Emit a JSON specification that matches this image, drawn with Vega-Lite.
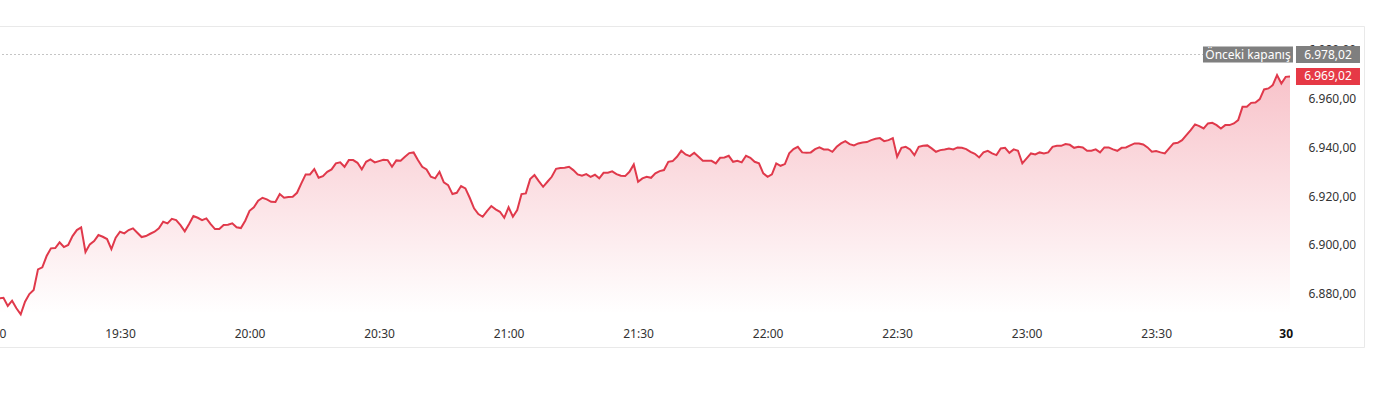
{
  "$schema": "https://vega.github.io/schema/vega-lite/v6.json",
  "width": 1365,
  "height": 321,
  "autosize": {"type": "none"},
  "padding": {"left": -1, "top": 26, "right": 11, "bottom": 60},
  "background": "#ffffff",
  "config": {
    "view": {"stroke": "#e9e9e9", "strokeWidth": 1},
    "font": "Noto Sans",
    "axis": {"labelFont": "Noto Sans", "labelFontSize": 12, "labelColor": "#333333", "domain": false, "ticks": false, "tickSize": 0, "grid": false, "title": null, "labelFlush": false, "labelOverlap": false}
  },
  "datasets": {
    "prices": [
      {"t":"2025-12-29T19:02:00Z","v":6878.16},{"t":"2025-12-29T19:03:00Z","v":6878.40},{"t":"2025-12-29T19:04:00Z","v":6875.01},{"t":"2025-12-29T19:05:00Z","v":6877.18},{"t":"2025-12-29T19:06:00Z","v":6874.06},{"t":"2025-12-29T19:07:00Z","v":6871.61},{"t":"2025-12-29T19:08:00Z","v":6876.77},{"t":"2025-12-29T19:09:00Z","v":6879.92},{"t":"2025-12-29T19:10:00Z","v":6881.56},{"t":"2025-12-29T19:11:00Z","v":6890.03},
      {"t":"2025-12-29T19:12:00Z","v":6890.85},{"t":"2025-12-29T19:13:00Z","v":6895.47},{"t":"2025-12-29T19:14:00Z","v":6898.62},{"t":"2025-12-29T19:15:00Z","v":6898.75},{"t":"2025-12-29T19:16:00Z","v":6901.08},{"t":"2025-12-29T19:17:00Z","v":6899.16},{"t":"2025-12-29T19:18:00Z","v":6899.98},{"t":"2025-12-29T19:19:00Z","v":6903.66},{"t":"2025-12-29T19:20:00Z","v":6906.12},{"t":"2025-12-29T19:21:00Z","v":6907.22},
      {"t":"2025-12-29T19:22:00Z","v":6897.11},{"t":"2025-12-29T19:23:00Z","v":6900.26},{"t":"2025-12-29T19:24:00Z","v":6901.61},{"t":"2025-12-29T19:25:00Z","v":6904.07},{"t":"2025-12-29T19:26:00Z","v":6903.37},{"t":"2025-12-29T19:27:00Z","v":6902.43},{"t":"2025-12-29T19:28:00Z","v":6898.34},{"t":"2025-12-29T19:29:00Z","v":6902.96},{"t":"2025-12-29T19:30:00Z","v":6905.42},{"t":"2025-12-29T19:31:00Z","v":6904.76},
      {"t":"2025-12-29T19:32:00Z","v":6906.12},{"t":"2025-12-29T19:33:00Z","v":6906.81},{"t":"2025-12-29T19:34:00Z","v":6905.01},{"t":"2025-12-29T19:35:00Z","v":6903.25},{"t":"2025-12-29T19:36:00Z","v":6903.66},{"t":"2025-12-29T19:37:00Z","v":6904.60},{"t":"2025-12-29T19:38:00Z","v":6905.42},{"t":"2025-12-29T19:39:00Z","v":6906.81},{"t":"2025-12-29T19:40:00Z","v":6909.51},{"t":"2025-12-29T19:41:00Z","v":6908.86},
      {"t":"2025-12-29T19:42:00Z","v":6910.74},{"t":"2025-12-29T19:43:00Z","v":6910.21},{"t":"2025-12-29T19:44:00Z","v":6908.16},{"t":"2025-12-29T19:45:00Z","v":6905.58},{"t":"2025-12-29T19:46:00Z","v":6908.57},{"t":"2025-12-29T19:47:00Z","v":6911.85},{"t":"2025-12-29T19:48:00Z","v":6911.15},{"t":"2025-12-29T19:49:00Z","v":6910.21},{"t":"2025-12-29T19:50:00Z","v":6910.90},{"t":"2025-12-29T19:51:00Z","v":6908.57},
      {"t":"2025-12-29T19:52:00Z","v":6906.52},{"t":"2025-12-29T19:53:00Z","v":6906.52},{"t":"2025-12-29T19:54:00Z","v":6908.16},{"t":"2025-12-29T19:55:00Z","v":6908.28},{"t":"2025-12-29T19:56:00Z","v":6908.86},{"t":"2025-12-29T19:57:00Z","v":6907.22},{"t":"2025-12-29T19:58:00Z","v":6906.93},{"t":"2025-12-29T19:59:00Z","v":6909.92},{"t":"2025-12-29T20:00:00Z","v":6914.02},{"t":"2025-12-29T20:01:00Z","v":6915.41},
      {"t":"2025-12-29T20:02:00Z","v":6918.11},{"t":"2025-12-29T20:03:00Z","v":6919.34},{"t":"2025-12-29T20:04:00Z","v":6918.68},{"t":"2025-12-29T20:05:00Z","v":6917.70},{"t":"2025-12-29T20:06:00Z","v":6917.58},{"t":"2025-12-29T20:07:00Z","v":6920.85},{"t":"2025-12-29T20:08:00Z","v":6919.34},{"t":"2025-12-29T20:09:00Z","v":6919.62},{"t":"2025-12-29T20:10:00Z","v":6919.75},{"t":"2025-12-29T20:11:00Z","v":6921.38},
      {"t":"2025-12-29T20:12:00Z","v":6925.23},{"t":"2025-12-29T20:13:00Z","v":6928.92},{"t":"2025-12-29T20:14:00Z","v":6928.92},{"t":"2025-12-29T20:15:00Z","v":6931.08},{"t":"2025-12-29T20:16:00Z","v":6927.52},{"t":"2025-12-29T20:17:00Z","v":6928.22},{"t":"2025-12-29T20:18:00Z","v":6929.98},{"t":"2025-12-29T20:19:00Z","v":6930.96},{"t":"2025-12-29T20:20:00Z","v":6933.42},{"t":"2025-12-29T20:21:00Z","v":6933.83},
      {"t":"2025-12-29T20:22:00Z","v":6932.03},{"t":"2025-12-29T20:23:00Z","v":6934.77},{"t":"2025-12-29T20:24:00Z","v":6934.77},{"t":"2025-12-29T20:25:00Z","v":6933.66},{"t":"2025-12-29T20:26:00Z","v":6930.96},{"t":"2025-12-29T20:27:00Z","v":6934.07},{"t":"2025-12-29T20:28:00Z","v":6935.06},{"t":"2025-12-29T20:29:00Z","v":6933.83},{"t":"2025-12-29T20:30:00Z","v":6934.36},{"t":"2025-12-29T20:31:00Z","v":6934.89},
      {"t":"2025-12-29T20:32:00Z","v":6934.77},{"t":"2025-12-29T20:33:00Z","v":6932.03},{"t":"2025-12-29T20:34:00Z","v":6934.65},{"t":"2025-12-29T20:35:00Z","v":6934.48},{"t":"2025-12-29T20:36:00Z","v":6936.12},{"t":"2025-12-29T20:37:00Z","v":6937.63},{"t":"2025-12-29T20:38:00Z","v":6937.92},{"t":"2025-12-29T20:39:00Z","v":6934.77},{"t":"2025-12-29T20:40:00Z","v":6932.03},{"t":"2025-12-29T20:41:00Z","v":6930.96},
      {"t":"2025-12-29T20:42:00Z","v":6927.93},{"t":"2025-12-29T20:43:00Z","v":6927.28},{"t":"2025-12-29T20:44:00Z","v":6929.98},{"t":"2025-12-29T20:45:00Z","v":6925.64},{"t":"2025-12-29T20:46:00Z","v":6924.54},{"t":"2025-12-29T20:47:00Z","v":6920.85},{"t":"2025-12-29T20:48:00Z","v":6921.38},{"t":"2025-12-29T20:49:00Z","v":6924.13},{"t":"2025-12-29T20:50:00Z","v":6923.18},{"t":"2025-12-29T20:51:00Z","v":6919.34},
      {"t":"2025-12-29T20:52:00Z","v":6915.00},{"t":"2025-12-29T20:53:00Z","v":6912.66},{"t":"2025-12-29T20:54:00Z","v":6911.56},{"t":"2025-12-29T20:55:00Z","v":6913.89},{"t":"2025-12-29T20:56:00Z","v":6915.94},{"t":"2025-12-29T20:57:00Z","v":6914.59},{"t":"2025-12-29T20:58:00Z","v":6913.61},{"t":"2025-12-29T20:59:00Z","v":6911.15},{"t":"2025-12-29T21:00:00Z","v":6915.41},{"t":"2025-12-29T21:01:00Z","v":6911.56},
      {"t":"2025-12-29T21:02:00Z","v":6914.30},{"t":"2025-12-29T21:03:00Z","v":6920.85},{"t":"2025-12-29T21:04:00Z","v":6921.14},{"t":"2025-12-29T21:05:00Z","v":6926.99},{"t":"2025-12-29T21:06:00Z","v":6928.63},{"t":"2025-12-29T21:07:00Z","v":6926.17},{"t":"2025-12-29T21:08:00Z","v":6923.84},{"t":"2025-12-29T21:09:00Z","v":6925.89},{"t":"2025-12-29T21:10:00Z","v":6927.93},{"t":"2025-12-29T21:11:00Z","v":6931.21},
      {"t":"2025-12-29T21:12:00Z","v":6931.49},{"t":"2025-12-29T21:13:00Z","v":6931.62},{"t":"2025-12-29T21:14:00Z","v":6932.03},{"t":"2025-12-29T21:15:00Z","v":6930.67},{"t":"2025-12-29T21:16:00Z","v":6928.91},{"t":"2025-12-29T21:17:00Z","v":6928.34},{"t":"2025-12-29T21:18:00Z","v":6929.04},{"t":"2025-12-29T21:19:00Z","v":6927.93},{"t":"2025-12-29T21:20:00Z","v":6928.75},{"t":"2025-12-29T21:21:00Z","v":6927.28},
      {"t":"2025-12-29T21:22:00Z","v":6929.57},{"t":"2025-12-29T21:23:00Z","v":6929.57},{"t":"2025-12-29T21:24:00Z","v":6930.14},{"t":"2025-12-29T21:25:00Z","v":6929.04},{"t":"2025-12-29T21:26:00Z","v":6928.34},{"t":"2025-12-29T21:27:00Z","v":6928.22},{"t":"2025-12-29T21:28:00Z","v":6929.98},{"t":"2025-12-29T21:29:00Z","v":6933.01},{"t":"2025-12-29T21:30:00Z","v":6925.89},{"t":"2025-12-29T21:31:00Z","v":6927.28},
      {"t":"2025-12-29T21:32:00Z","v":6927.93},{"t":"2025-12-29T21:33:00Z","v":6927.52},{"t":"2025-12-29T21:34:00Z","v":6929.32},{"t":"2025-12-29T21:35:00Z","v":6930.27},{"t":"2025-12-29T21:36:00Z","v":6930.68},{"t":"2025-12-29T21:37:00Z","v":6934.07},{"t":"2025-12-29T21:38:00Z","v":6934.36},{"t":"2025-12-29T21:39:00Z","v":6936.12},{"t":"2025-12-29T21:40:00Z","v":6938.58},{"t":"2025-12-29T21:41:00Z","v":6937.10},
      {"t":"2025-12-29T21:42:00Z","v":6936.41},{"t":"2025-12-29T21:43:00Z","v":6937.76},{"t":"2025-12-29T21:44:00Z","v":6936.12},{"t":"2025-12-29T21:45:00Z","v":6934.48},{"t":"2025-12-29T21:46:00Z","v":6934.48},{"t":"2025-12-29T21:47:00Z","v":6934.48},{"t":"2025-12-29T21:48:00Z","v":6933.42},{"t":"2025-12-29T21:49:00Z","v":6935.71},{"t":"2025-12-29T21:50:00Z","v":6935.87},{"t":"2025-12-29T21:51:00Z","v":6936.53},
      {"t":"2025-12-29T21:52:00Z","v":6934.07},{"t":"2025-12-29T21:53:00Z","v":6934.48},{"t":"2025-12-29T21:54:00Z","v":6933.83},{"t":"2025-12-29T21:55:00Z","v":6936.53},{"t":"2025-12-29T21:56:00Z","v":6935.71},{"t":"2025-12-29T21:57:00Z","v":6934.07},{"t":"2025-12-29T21:58:00Z","v":6933.42},{"t":"2025-12-29T21:59:00Z","v":6929.32},{"t":"2025-12-29T22:00:00Z","v":6927.93},{"t":"2025-12-29T22:01:00Z","v":6928.91},
      {"t":"2025-12-29T22:02:00Z","v":6933.42},{"t":"2025-12-29T22:03:00Z","v":6932.44},{"t":"2025-12-29T22:04:00Z","v":6933.13},{"t":"2025-12-29T22:05:00Z","v":6937.51},{"t":"2025-12-29T22:06:00Z","v":6939.27},{"t":"2025-12-29T22:07:00Z","v":6940.21},{"t":"2025-12-29T22:08:00Z","v":6937.92},{"t":"2025-12-29T22:09:00Z","v":6937.76},{"t":"2025-12-29T22:10:00Z","v":6937.92},{"t":"2025-12-29T22:11:00Z","v":6939.27},
      {"t":"2025-12-29T22:12:00Z","v":6939.97},{"t":"2025-12-29T22:13:00Z","v":6939.15},{"t":"2025-12-29T22:14:00Z","v":6939.15},{"t":"2025-12-29T22:15:00Z","v":6938.17},{"t":"2025-12-29T22:16:00Z","v":6940.21},{"t":"2025-12-29T22:17:00Z","v":6941.60},{"t":"2025-12-29T22:18:00Z","v":6942.55},{"t":"2025-12-29T22:19:00Z","v":6941.32},{"t":"2025-12-29T22:20:00Z","v":6940.79},{"t":"2025-12-29T22:21:00Z","v":6941.60},
      {"t":"2025-12-29T22:22:00Z","v":6942.01},{"t":"2025-12-29T22:23:00Z","v":6942.14},{"t":"2025-12-29T22:24:00Z","v":6942.95},{"t":"2025-12-29T22:25:00Z","v":6943.49},{"t":"2025-12-29T22:26:00Z","v":6943.77},{"t":"2025-12-29T22:27:00Z","v":6942.55},{"t":"2025-12-29T22:28:00Z","v":6942.95},{"t":"2025-12-29T22:29:00Z","v":6943.77},{"t":"2025-12-29T22:30:00Z","v":6936.12},{"t":"2025-12-29T22:31:00Z","v":6939.80},
      {"t":"2025-12-29T22:32:00Z","v":6940.21},{"t":"2025-12-29T22:33:00Z","v":6939.15},{"t":"2025-12-29T22:34:00Z","v":6936.82},{"t":"2025-12-29T22:35:00Z","v":6940.21},{"t":"2025-12-29T22:36:00Z","v":6940.62},{"t":"2025-12-29T22:37:00Z","v":6940.79},{"t":"2025-12-29T22:38:00Z","v":6939.56},{"t":"2025-12-29T22:39:00Z","v":6938.17},{"t":"2025-12-29T22:40:00Z","v":6938.86},{"t":"2025-12-29T22:41:00Z","v":6939.15},
      {"t":"2025-12-29T22:42:00Z","v":6939.56},{"t":"2025-12-29T22:43:00Z","v":6939.15},{"t":"2025-12-29T22:44:00Z","v":6939.97},{"t":"2025-12-29T22:45:00Z","v":6939.80},{"t":"2025-12-29T22:46:00Z","v":6939.27},{"t":"2025-12-29T22:47:00Z","v":6938.17},{"t":"2025-12-29T22:48:00Z","v":6937.35},{"t":"2025-12-29T22:49:00Z","v":6935.87},{"t":"2025-12-29T22:50:00Z","v":6937.92},{"t":"2025-12-29T22:51:00Z","v":6938.58},
      {"t":"2025-12-29T22:52:00Z","v":6937.51},{"t":"2025-12-29T22:53:00Z","v":6936.82},{"t":"2025-12-29T22:54:00Z","v":6939.56},{"t":"2025-12-29T22:55:00Z","v":6939.80},{"t":"2025-12-29T22:56:00Z","v":6937.76},{"t":"2025-12-29T22:57:00Z","v":6939.15},{"t":"2025-12-29T22:58:00Z","v":6938.58},{"t":"2025-12-29T22:59:00Z","v":6933.42},{"t":"2025-12-29T23:00:00Z","v":6935.46},{"t":"2025-12-29T23:01:00Z","v":6937.51},
      {"t":"2025-12-29T23:02:00Z","v":6937.10},{"t":"2025-12-29T23:03:00Z","v":6937.92},{"t":"2025-12-29T23:04:00Z","v":6937.51},{"t":"2025-12-29T23:05:00Z","v":6937.92},{"t":"2025-12-29T23:06:00Z","v":6940.21},{"t":"2025-12-29T23:07:00Z","v":6940.62},{"t":"2025-12-29T23:08:00Z","v":6940.62},{"t":"2025-12-29T23:09:00Z","v":6941.32},{"t":"2025-12-29T23:10:00Z","v":6941.03},{"t":"2025-12-29T23:11:00Z","v":6939.80},
      {"t":"2025-12-29T23:12:00Z","v":6940.21},{"t":"2025-12-29T23:13:00Z","v":6939.97},{"t":"2025-12-29T23:14:00Z","v":6938.58},{"t":"2025-12-29T23:15:00Z","v":6938.58},{"t":"2025-12-29T23:16:00Z","v":6939.15},{"t":"2025-12-29T23:17:00Z","v":6937.92},{"t":"2025-12-29T23:18:00Z","v":6939.97},{"t":"2025-12-29T23:19:00Z","v":6939.97},{"t":"2025-12-29T23:20:00Z","v":6939.15},{"t":"2025-12-29T23:21:00Z","v":6938.58},
      {"t":"2025-12-29T23:22:00Z","v":6939.80},{"t":"2025-12-29T23:23:00Z","v":6939.97},{"t":"2025-12-29T23:24:00Z","v":6940.79},{"t":"2025-12-29T23:25:00Z","v":6941.60},{"t":"2025-12-29T23:26:00Z","v":6941.60},{"t":"2025-12-29T23:27:00Z","v":6941.19},{"t":"2025-12-29T23:28:00Z","v":6939.97},{"t":"2025-12-29T23:29:00Z","v":6938.17},{"t":"2025-12-29T23:30:00Z","v":6938.45},{"t":"2025-12-29T23:31:00Z","v":6937.92},
      {"t":"2025-12-29T23:32:00Z","v":6937.51},{"t":"2025-12-29T23:33:00Z","v":6939.56},{"t":"2025-12-29T23:34:00Z","v":6941.60},{"t":"2025-12-29T23:35:00Z","v":6941.85},{"t":"2025-12-29T23:36:00Z","v":6942.95},{"t":"2025-12-29T23:37:00Z","v":6945.00},{"t":"2025-12-29T23:38:00Z","v":6947.05},{"t":"2025-12-29T23:39:00Z","v":6949.38},{"t":"2025-12-29T23:40:00Z","v":6948.69},{"t":"2025-12-29T23:41:00Z","v":6947.74},
      {"t":"2025-12-29T23:42:00Z","v":6949.79},{"t":"2025-12-29T23:43:00Z","v":6950.04},{"t":"2025-12-29T23:44:00Z","v":6949.10},{"t":"2025-12-29T23:45:00Z","v":6947.74},{"t":"2025-12-29T23:46:00Z","v":6949.10},{"t":"2025-12-29T23:47:00Z","v":6949.10},{"t":"2025-12-29T23:48:00Z","v":6949.79},{"t":"2025-12-29T23:49:00Z","v":6951.14},{"t":"2025-12-29T23:50:00Z","v":6956.59},{"t":"2025-12-29T23:51:00Z","v":6956.59},
      {"t":"2025-12-29T23:52:00Z","v":6958.22},{"t":"2025-12-29T23:53:00Z","v":6958.39},{"t":"2025-12-29T23:54:00Z","v":6959.74},{"t":"2025-12-29T23:55:00Z","v":6963.71},{"t":"2025-12-29T23:56:00Z","v":6964.12},{"t":"2025-12-29T23:57:00Z","v":6965.47},{"t":"2025-12-29T23:58:00Z","v":6969.56},{"t":"2025-12-29T23:59:00Z","v":6966.17},{"t":"2025-12-30T00:00:00Z","v":6968.87},{"t":"2025-12-30T00:01:00Z","v":6969.02}
    ],
    "levels": [
      {"kind": "prev", "name": "Önceki kapanış", "label": "6.978,02", "v": 6978.02},
      {"kind": "last", "name": "Son", "label": "6.969,02", "v": 6969.02}
    ]
  },
  "layer": [
    {
      "data": {"name": "prices"},
      "mark": {"type": "area", "color": {"gradient": "linear", "x1": 0, "y1": 0, "x2": 0, "y2": 1, "stops": [{"offset": 0, "color": "#f8c3ca"}, {"offset": 1, "color": "#ffffff"}]}},
      "encoding": {
        "x": {
          "field": "t", "type": "temporal",
          "scale": {"type": "utc", "range": [-8.5, 1291], "domain": [
            {"year": 2025, "month": 12, "date": 29, "hours": 19, "minutes": 0, "utc": true},
            {"year": 2025, "month": 12, "date": 30, "hours": 0, "minutes": 1, "utc": true}
          ]},
          "axis": {
            "orient": "bottom",
            "offset": -34,
            "labelPadding": 15,
            "values": [
              {"year": 2025, "month": 12, "date": 29, "hours": 19, "minutes": 0, "utc": true},
              {"year": 2025, "month": 12, "date": 29, "hours": 19, "minutes": 30, "utc": true},
              {"year": 2025, "month": 12, "date": 29, "hours": 20, "minutes": 0, "utc": true},
              {"year": 2025, "month": 12, "date": 29, "hours": 20, "minutes": 30, "utc": true},
              {"year": 2025, "month": 12, "date": 29, "hours": 21, "minutes": 0, "utc": true},
              {"year": 2025, "month": 12, "date": 29, "hours": 21, "minutes": 30, "utc": true},
              {"year": 2025, "month": 12, "date": 29, "hours": 22, "minutes": 0, "utc": true},
              {"year": 2025, "month": 12, "date": 29, "hours": 22, "minutes": 30, "utc": true},
              {"year": 2025, "month": 12, "date": 29, "hours": 23, "minutes": 0, "utc": true},
              {"year": 2025, "month": 12, "date": 29, "hours": 23, "minutes": 30, "utc": true},
              {"year": 2025, "month": 12, "date": 30, "hours": 0, "minutes": 0, "utc": true}
            ],
            "labelExpr": "utchours(datum.value) == 0 && utcminutes(datum.value) == 0 ? utcFormat(datum.value, '%d') : utcFormat(datum.value, '%H:%M')",
            "labelFontWeight": {"condition": {"test": "utchours(datum.value) == 0", "value": "bold"}, "value": "normal"},
            "labelColor": {"condition": {"test": "utchours(datum.value) == 0", "value": "#111111"}, "value": "#333333"}
          }
        },
        "y": {
          "field": "v", "type": "quantitative", "stack": null,
          "scale": {"domain": [6872.55, 6985.6], "range": [286, 10], "nice": false, "zero": false},
          "axis": {
            "orient": "right",
            "offset": -74,
            "labelPadding": 18,
            "labelAlign": "left",
            "values": [6880, 6900, 6920, 6940, 6960, 6980],
            "labelExpr": "replace(replace(replace(format(datum.value, ',.2f'), ',', '_'), '.', ','), '_', '.')"
          }
        },
        "y2": {"datum": 6872.55}
      }
    },
    {
      "data": {"name": "prices"},
      "mark": {"type": "line", "color": "#e0394b", "strokeWidth": 2},
      "encoding": {
        "x": {"field": "t", "type": "temporal"},
        "y": {"field": "v", "type": "quantitative"}
      }
    },
    {
      "data": {"name": "levels"},
      "transform": [{"filter": "datum.kind == 'prev'"}],
      "mark": {"type": "rule", "color": "#8a8a8a", "strokeDash": [1, 3], "strokeWidth": 1},
      "encoding": {
        "x": {"datum": {"year": 2025, "month": 12, "date": 29, "hours": 19, "minutes": 0, "utc": true}, "type": "temporal"},
        "x2": {"datum": {"year": 2025, "month": 12, "date": 30, "hours": 0, "minutes": 1, "utc": true}},
        "y": {"field": "v", "type": "quantitative"}
      }
    },
    {
      "data": {"name": "levels"},
      "transform": [{"filter": "datum.kind == 'prev'"}],
      "mark": {"type": "point", "filled": true, "opacity": 1, "strokeWidth": 0, "color": "#7f7f7f", "shape": "M-1,-0.178H1V0.178H-1Z", "size": 8100},
      "encoding": {
        "x": {"datum": {"year": 2025, "month": 12, "date": 29, "hours": 23, "minutes": 51, "seconds": 16, "utc": true}, "type": "temporal"},
        "y": {"field": "v", "type": "quantitative"}
      }
    },
    {
      "data": {"name": "levels"},
      "transform": [{"filter": "datum.kind == 'prev'"}],
      "mark": {"type": "text", "color": "#ffffff", "font": "Noto Sans", "fontSize": 12, "align": "center", "baseline": "middle"},
      "encoding": {
        "x": {"datum": {"year": 2025, "month": 12, "date": 29, "hours": 23, "minutes": 51, "seconds": 16, "utc": true}, "type": "temporal"},
        "y": {"field": "v", "type": "quantitative"},
        "text": {"field": "name"}
      }
    },
    {
      "data": {"name": "levels"},
      "mark": {"type": "point", "filled": true, "opacity": 1, "strokeWidth": 0, "shape": "M-1,-0.266H1V0.266H-1Z", "size": 4096},
      "encoding": {
        "x": {"datum": {"year": 2025, "month": 12, "date": 30, "hours": 0, "minutes": 9, "seconds": 48, "utc": true}, "type": "temporal"},
        "y": {"field": "v", "type": "quantitative"},
        "color": {"field": "kind", "type": "nominal", "scale": {"domain": ["prev", "last"], "range": ["#7f7f7f", "#e63946"]}, "legend": null}
      }
    },
    {
      "data": {"name": "levels"},
      "mark": {"type": "text", "color": "#ffffff", "font": "Noto Sans", "fontSize": 12, "align": "center", "baseline": "middle"},
      "encoding": {
        "x": {"datum": {"year": 2025, "month": 12, "date": 30, "hours": 0, "minutes": 9, "seconds": 48, "utc": true}, "type": "temporal"},
        "y": {"field": "v", "type": "quantitative"},
        "text": {"field": "label"}
      }
    }
  ]
}
